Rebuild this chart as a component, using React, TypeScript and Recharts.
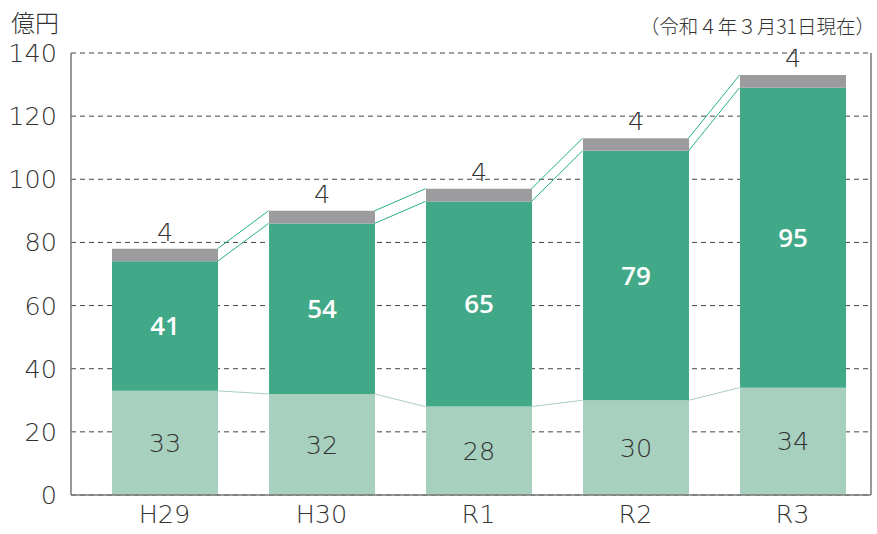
import { ComposedChart, Bar, Line, XAxis, YAxis, CartesianGrid, LabelList } from 'recharts';

const YEARS = ['H29', 'H30', 'R1', 'R2', 'R3'];
const BASE = [33, 32, 28, 30, 34];
const MAIN = [41, 54, 65, 79, 95];
const OTHER = [4, 4, 4, 4, 4];
const Y_TICKS = [0, 20, 40, 60, 80, 100, 120, 140];

const FONT = '"DejaVu Sans", "Noto Sans", sans-serif';
const BOLD_FONT = '"Open Sans", "Noto Sans", sans-serif';
const JP_FONT = '"Noto Sans CJK JP", sans-serif';
const BAR_SIZE = 106;

const data = YEARS.map((year, i) => ({
  year,
  base: BASE[i],
  main: MAIN[i],
  other: OTHER[i],
  baseTop: BASE[i],
  mainTop: BASE[i] + MAIN[i],
  total: BASE[i] + MAIN[i] + OTHER[i],
}));

// draws a line from the right edge of this bar to the left edge of the next one
function connector(color: string) {
  return (p: any) => {
    const { cx, cy, index, points } = p;
    if (!points || index >= points.length - 1) return <g key={`c-${index}`} />;
    const next = points[index + 1];
    return (
      <line
        key={`c-${index}`}
        x1={cx + BAR_SIZE / 2} y1={cy}
        x2={next.x - BAR_SIZE / 2} y2={next.y}
        stroke={color} strokeWidth={1}
      />
    );
  };
}

export default function App() {
  return (
    <div style={{ position: 'absolute', left: 0, top: 0, width: 877, height: 534, background: '#fff' }}>
      <div style={{ position: 'absolute', left: 11, top: 7, fontSize: 24, lineHeight: '30px', color: '#333', fontFamily: JP_FONT, fontWeight: 300 }}>億円</div>
      <div style={{ position: 'absolute', right: 2, top: 13, fontSize: 19.5, lineHeight: '26px', color: '#333', fontFamily: JP_FONT, fontWeight: 300 }}>
        （令和４年３月31日現在）
      </div>
      <ComposedChart
        width={877} height={534} data={data}
        margin={{ top: 53, right: 5, bottom: 0, left: 0 }}
        barCategoryGap={0}
      >
        <CartesianGrid yAxisId="l" vertical={false} stroke="#444" strokeDasharray="5 4" />
        <XAxis
          dataKey="year"
          height={39}
          padding={{ left: 15, right: 0 }}
          tickLine={false}
          axisLine={{ stroke: '#777', strokeWidth: 1.5 }}
          tick={{ fontSize: 25.5, fill: '#333', fontFamily: FONT, fontWeight: 200 }}
          tickMargin={4}
        />
        <YAxis
          yAxisId="l"
          width={71}
          domain={[0, 140]}
          ticks={Y_TICKS}
          interval={0}
          tickLine={false}
          axisLine={{ stroke: '#777', strokeWidth: 1.5 }}
          tick={{ fontSize: 25.5, fill: '#333', fontFamily: FONT, fontWeight: 200 }}
          tickMargin={8}
        />
        <YAxis
          yAxisId="r"
          orientation="right"
          width={1}
          domain={[0, 140]}
          tick={false}
          tickLine={false}
          axisLine={{ stroke: '#999', strokeWidth: 2 }}
        />
        <Bar yAxisId="l" dataKey="base" stackId="a" fill="#a7d0bf" barSize={BAR_SIZE} isAnimationActive={false}>
          <LabelList dataKey="base" position="center" fill="#333" fontSize={25.5} fontWeight={200} fontFamily={FONT} />
        </Bar>
        <Bar yAxisId="l" dataKey="main" stackId="a" fill="#41a888" barSize={BAR_SIZE} isAnimationActive={false}>
          <LabelList dataKey="main" position="center" fill="#fff" fontSize={26} fontWeight={600} fontFamily={BOLD_FONT} />
        </Bar>
        <Bar yAxisId="l" dataKey="other" stackId="a" fill="#9c9c9e" barSize={BAR_SIZE} isAnimationActive={false}>
          <LabelList dataKey="other" position="top" offset={8} fill="#333" fontSize={25.5} fontWeight={200} fontFamily={FONT} />
        </Bar>
        <Line yAxisId="l" dataKey="baseTop" stroke="none" dot={connector('#a7d0bf')} activeDot={false} isAnimationActive={false} />
        <Line yAxisId="l" dataKey="mainTop" stroke="none" dot={connector('#26b08e')} activeDot={false} isAnimationActive={false} />
        <Line yAxisId="l" dataKey="total" stroke="none" dot={connector('#26b08e')} activeDot={false} isAnimationActive={false} />
      </ComposedChart>
    </div>
  );
}
